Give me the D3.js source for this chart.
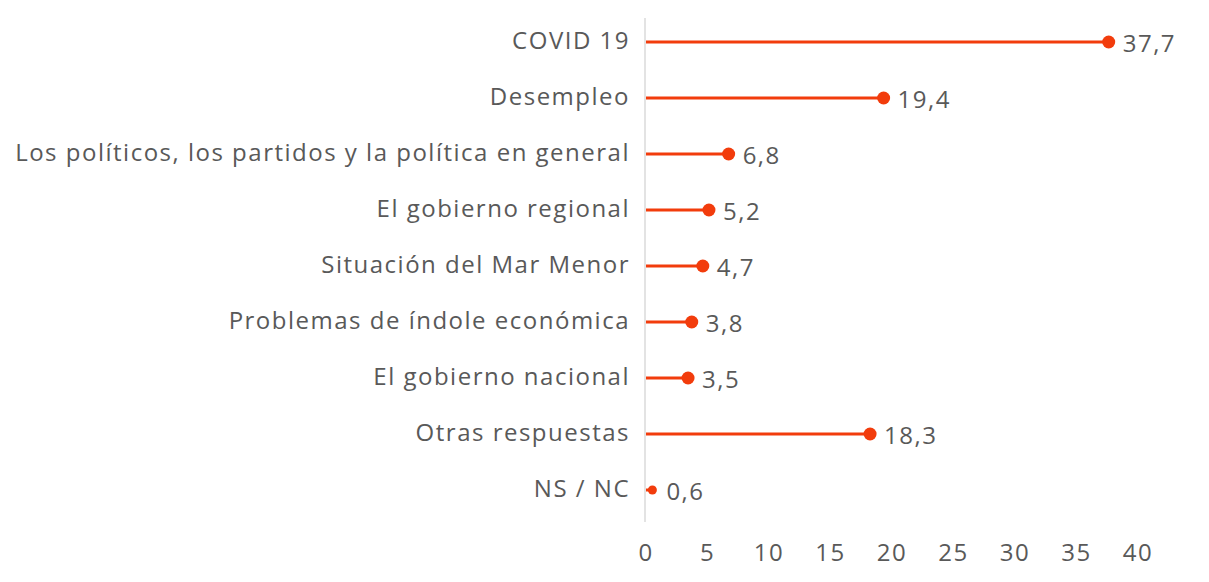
<!DOCTYPE html>
<html>
<head>
<meta charset="utf-8">
<script src="https://cdn.jsdelivr.net/npm/d3@7"></script>
<style>
  body { margin: 0; background: #fff; }
  text { font-family: "Open Sans", sans-serif; fill: #595959; letter-spacing: 1.5px; }
</style>
</head>
<body>
<svg width="1209" height="582"></svg>
<script>

var categories = ["COVID 19", "Desempleo", "Los políticos, los partidos y la política en general",
  "El gobierno regional", "Situación del Mar Menor", "Problemas de índole económica",
  "El gobierno nacional", "Otras respuestas", "NS / NC"];
var values = [37.7, 19.4, 6.8, 5.2, 4.7, 3.8, 3.5, 18.3, 0.6];
var xTicks = [0, 5, 10, 15, 20, 25, 30, 35, 40];

var red = "#f23c0c";
var svg = d3.select("svg");

var x = d3.scaleLinear().domain([0, 40]).range([645, 1137]);
var y = d3.scaleBand().domain(categories).range([14, 518]);

var fmt = function(v) { return d3.format(".1f")(v).replace(".", ","); };

// vertical axis line
svg.append("line")
  .attr("x1", x(0)).attr("x2", x(0))
  .attr("y1", 18).attr("y2", 522)
  .attr("stroke", "#d0d0d0").attr("stroke-width", 1.2);

// category labels (trailing letter-spacing pushes text left, so anchor a bit right)
svg.selectAll(".cat")
  .data(categories)
  .enter().append("text")
  .attr("class", "cat")
  .attr("x", 630)
  .attr("y", function(d) { return y(d) + y.bandwidth() / 2 - 1; })
  .attr("dy", "0.35em")
  .attr("text-anchor", "end")
  .style("font-size", "24px")
  .text(function(d) { return d; });

// x tick labels
svg.selectAll(".tick-lbl")
  .data(xTicks)
  .enter().append("text")
  .attr("class", "tick-lbl")
  .attr("x", function(d) { return x(d) + 1; })
  .attr("y", 553)
  .attr("dy", "0.35em")
  .attr("text-anchor", "middle")
  .style("font-size", "24px")
  .text(function(d) { return d; });

var rows = categories.map(function(c, i) { return { cat: c, val: values[i] }; });

// stems
svg.selectAll(".stem")
  .data(rows)
  .enter().append("line")
  .attr("x1", x(0) + 1)
  .attr("x2", function(d) { return x(d.val); })
  .attr("y1", function(d) { return y(d.cat) + y.bandwidth() / 2; })
  .attr("y2", function(d) { return y(d.cat) + y.bandwidth() / 2; })
  .attr("stroke", red).attr("stroke-width", 3);

// dots
svg.selectAll(".dot")
  .data(rows)
  .enter().append("circle")
  .attr("cx", function(d) { return x(d.val); })
  .attr("cy", function(d) { return y(d.cat) + y.bandwidth() / 2; })
  .attr("r", function(d) { return d.val < 1 ? 4.5 : 6.5; })
  .attr("fill", red);

// value labels
svg.selectAll(".val")
  .data(rows)
  .enter().append("text")
  .attr("class", "val")
  .attr("x", function(d) { return x(d.val) + 14; })
  .attr("y", function(d) { return y(d.cat) + y.bandwidth() / 2 + 2; })
  .attr("dy", "0.35em")
  .style("font-size", "24px")
  .text(function(d) { return fmt(d.val); });

</script>
</body>
</html>
